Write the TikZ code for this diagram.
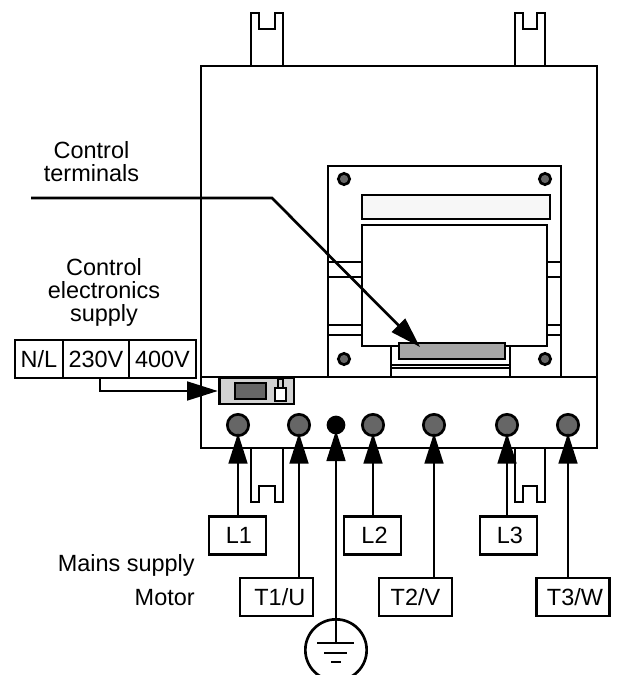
\documentclass[tikz,border=0pt]{standalone}
\usepackage{fontspec}
\setmainfont{Liberation Sans}
\usetikzlibrary{arrows.meta}
\definecolor{pindark}{HTML}{666666}
\definecolor{blockgray}{HTML}{D2D2D2}
\definecolor{bargray}{HTML}{A6A6A6}
\begin{document}
\begin{tikzpicture}[
		x=0.75pt, y=-0.75pt,
		every node/.style={font=\fontsize{17.6}{17.25}\selectfont},
		wire/.style={draw, line width=2pt},
		base/.style={wire, fill=white, inner sep=0pt, minimum height=28.5pt},
		mains/.style={base, minimum width=42.75pt},
		motor/.style={base, minimum width=54.75pt},
		cell/.style={wire, inner sep=0pt, minimum height=28.5pt},
		caption/.style={anchor=base east, inner sep=0pt},
		pin/.style={circle, wire, fill=pindark, inner sep=0pt, minimum size=16pt},
		screw/.style={circle, wire, fill=pindark, inner sep=0pt, minimum size=8.5pt},
		link/.style={line width=2pt, -{Triangle[length=23pt, width=14pt]}}
	]

	\useasboundingbox (0,0) rectangle (618,675);

	% housing
	\draw[wire] (201,66) rectangle (597,448);
	\draw[wire] (201,377) -- (597,377);

	% fixing lugs, top and bottom
	\foreach \x/\w in {251/32,515/30}{
		\draw[wire] (\x,66) -- (\x,13) -- (\x+8,13) -- (\x+8,29) -- (\x+\w-8,29)
			-- (\x+\w-8,13) -- (\x+\w,13) -- (\x+\w,66);
		\draw[wire] (\x,448) -- (\x,502) -- (\x+8,502) -- (\x+8,486) -- (\x+\w-8,486)
			-- (\x+\w-8,502) -- (\x+\w,502) -- (\x+\w,448);
	}

	% control board
	\draw[wire, line width=1.6pt] (328,377) -- (328,166) -- (561,166) -- (561,377);
	\foreach \y in {262,277,325,335}{
		\draw[wire, line width=1.6pt] (328,\y) -- (362,\y);
		\draw[wire, line width=1.6pt] (547,\y) -- (561,\y);
	}
	\draw[wire, fill=black!3] (362,195) rectangle (550,219);
	\draw[wire, line width=1.6pt] (391,346) -- (391,377);
	\draw[wire, line width=1.6pt] (510,346) -- (510,377);
	\draw[line width=0.8pt] (391,365) -- (510,365);
	\draw[line width=0.8pt] (391,368) -- (510,368);
	\draw[wire, fill=white] (362,225) rectangle (547,346);
	\node[wire, fill=bargray, minimum width=79.5pt, minimum height=12pt, inner sep=0pt] at (452,351) (terminals) {};

	\foreach \x/\y/\n in {344/179/a,545/179/b,344/359/c,545/359/d}{
		\node[screw] at (\x,\y) (screw\n) {};
	}

	% supply selector
	\node[wire, fill=blockgray, minimum width=56pt, minimum height=19.5pt, inner sep=0pt] at (256.5,391) (selector) {};
	\draw[wire, fill=pindark] (235,383) rectangle (266,399);
	\draw[line width=1.2pt] (278,388) -- (278,379) -- (283,379) -- (283,388);
	\draw[wire, fill=white] (275,388) rectangle (286,401);

	% strip
	\node[cell, minimum width=36pt] at (39,359) (nl) {N/L};
	\node[cell, minimum width=49.5pt] at (96,359) (low) {230V};
	\node[cell, minimum width=50.25pt] at (162.5,359) (high) {400V};
	\draw[link] (low.south -| 100,0) |- (selector.west);

	% terminals
	\foreach \x/\n in {238/ta,299/tb,373/tc,434/td,507/te,568/tf}{
		\node[pin] at (\x,425) (\n) {};
	}
	\node[pin, fill=black, minimum size=12pt] at (336,425) (earth) {};

	% labels for the terminals
	\node[mains] at (237.5,535.5) (L1) {\hspace*{2pt}L1};
	\node[mains] at (372.5,535.5) (L2) {\hspace*{3pt}L2};
	\node[mains] at (508.5,535.5) (L3) {\hspace*{2pt}L3};
	\node[motor] at (276.5,597) (T1) {\hspace*{5pt}T1/U};
	\node[motor] at (415.5,597) (T2) {T2/V};
	\node[motor] at (573,597) (T3) {\hspace*{3pt}T3/W};

	\foreach \from/\to in {L1/ta,T1/tb,L2/tc,T2/td,L3/te,T3/tf}{
		\draw[link, shorten >=-3pt] (\from.north -| \to.south) -- (\to.south);
	}

	% earth symbol
	\node[circle, wire, minimum size=46pt, inner sep=0pt] at (336,650) (ground) {};
	\draw[wire] (ground.north) -- (336,643);
	\draw[wire] (317,643) -- (354,643);
	\draw[wire] (324,653) -- (347,653);
	\draw[wire] (331,662) -- (341,662);
	\draw[link, shorten >=-3pt] (ground.north) -- (earth.south);

	% captions
	\node[align=center] at (91.5,162) (cap) {Control\\terminals};
	\node[align=center] at (104,292) (supply) {Control\\electronics\\supply};
	\node[caption] at (195,571) (mainstext) {Mains supply};
	\node[caption] at (195,605) (motortext) {Motor};

	\coordinate (start) at (31,198);
	\coordinate (bend) at (272,198);
	\draw[link] (start) -- (bend) -- (420,347);
\end{tikzpicture}
\end{document}
